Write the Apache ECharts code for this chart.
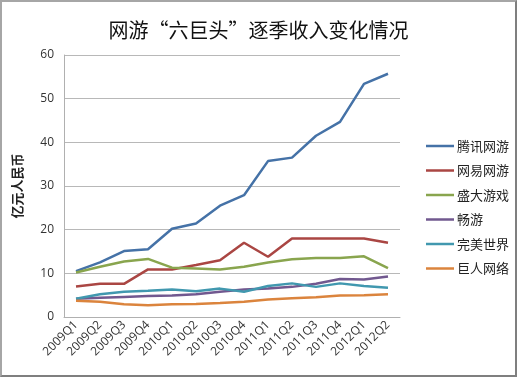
<!DOCTYPE html>
<html>
<head>
<meta charset="utf-8">
<script src="https://cdn.jsdelivr.net/npm/echarts@6/dist/echarts.min.js"></script>
<style>
  html, body { margin: 0; padding: 0; background: #fff; }
  #chart {
    width: 517px; height: 377px; box-sizing: border-box;
    border-left: 2px solid #a6a6a6; border-top: 2px solid #a6a6a6;
    border-right: 2px solid #7f7f7f; border-bottom: 2px solid #7f7f7f;
  }
</style>
</head>
<body>
<div id="chart"></div>
<script>
// 季度
var quarters = ['2009Q1','2009Q2','2009Q3','2009Q4','2010Q1','2010Q2','2010Q3',
                '2010Q4','2011Q1','2011Q2','2011Q3','2011Q4','2012Q1','2012Q2'];

// 各家收入（亿元人民币）
var tencent = [10.5, 12.5, 15.1, 15.5, 20.2, 21.4, 25.5, 27.9, 35.7, 36.5, 41.5, 44.7, 53.4, 55.7];
var netease = [7.0, 7.6, 7.6, 10.9, 10.9, 11.9, 13.0, 17.0, 13.8, 18.0, 18.0, 18.0, 18.0, 17.0];
var shanda  = [10.2, 11.5, 12.7, 13.3, 11.3, 11.1, 10.9, 11.5, 12.5, 13.2, 13.5, 13.5, 13.9, 11.2];
var changyou = [4.2, 4.4, 4.6, 4.8, 4.9, 5.2, 5.8, 6.3, 6.5, 6.9, 7.6, 8.7, 8.6, 9.3];
var wanmei  = [4.2, 5.2, 5.8, 6.0, 6.3, 5.9, 6.5, 5.8, 7.1, 7.7, 6.9, 7.7, 7.1, 6.7];
var juren   = [3.7, 3.5, 2.9, 2.7, 2.9, 3.0, 3.2, 3.5, 4.0, 4.3, 4.5, 4.9, 5.0, 5.2];

var yTicks = [0, 10, 20, 30, 40, 50, 60];

var names  = ['腾讯网游','网易网游','盛大游戏','畅游','完美世界','巨人网络'];
var values = [tencent, netease, shanda, changyou, wanmei, juren];
var colors = ['#4572A7','#AA4643','#89A54E','#71588F','#4198AF','#DB843D'];

var font = "'Open Sans', 'Noto Sans CJK SC', sans-serif";
var cjk = "'Noto Sans CJK SC', sans-serif";

var series = [];
for (var i = 0; i < names.length; i++) {
    series.push({
        name: names[i],
        type: 'line',
        data: values[i],
        symbol: 'none',
        lineStyle: { width: 2.5, color: colors[i] },
        itemStyle: { color: colors[i] }
    });
}

var option = {
    animation: false,
    textStyle: { fontFamily: font },
    title: {
        show: true,
        text: '网游“六巨头”逐季收入变化情况',
        left: 'center',
        top: 13,
        textStyle: { fontSize: 20, fontWeight: 'normal', color: '#111', fontFamily: cjk }
    },
    legend: {
        data: names,
        orient: 'vertical',
        left: 419,
        top: 132,
        icon: 'rect',
        itemWidth: 28,
        itemHeight: 2.5,
        itemGap: 10.5,
        textStyle: { fontSize: 13, lineHeight: 14, color: '#222', fontFamily: cjk, padding: [0, 0, 0, -2] }
    },
    grid: {
        left: 62,
        right: 115,
        top: 53,
        bottom: 58
    },
    xAxis: {
        type: 'category',
        data: quarters,
        boundaryGap: true,
        axisLine: { lineStyle: { color: '#b0b0b0', width: 1 } },
        axisTick: { show: false },
        axisLabel: { rotate: 45, fontSize: 12, color: '#333', margin: 6, interval: 0 }
    },
    yAxis: {
        type: 'value',
        min: yTicks[0],
        max: yTicks[yTicks.length - 1],
        interval: 10,
        name: '亿元人民币',
        nameLocation: 'middle',
        nameGap: 40,
        nameRotate: 90,
        nameTextStyle: { fontSize: 13, fontWeight: 'bold', color: '#222', fontFamily: cjk },
        axisLine: { show: true, lineStyle: { color: '#b0b0b0', width: 1 } },
        axisTick: { show: false },
        axisLabel: { fontSize: 12, color: '#333', margin: 10 },
        splitLine: { lineStyle: { color: '#b8b8b8', width: 1 } }
    },
    series: series
};

var chart = echarts.init(document.getElementById('chart'));
chart.setOption(option);
</script>
</body>
</html>
